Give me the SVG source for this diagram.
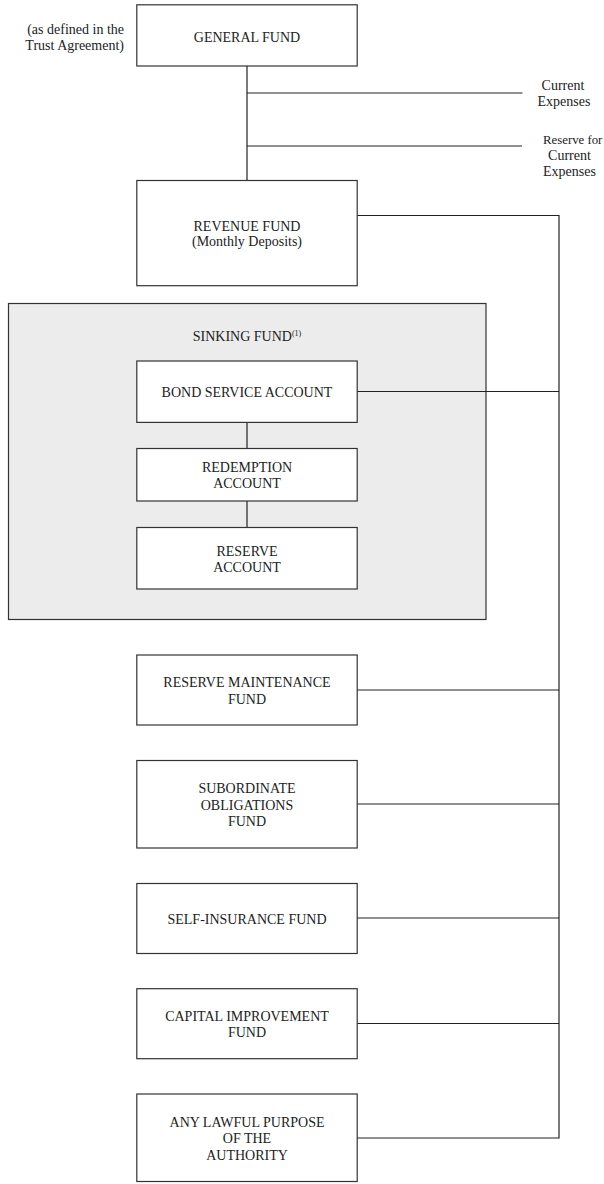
<svg xmlns="http://www.w3.org/2000/svg" width="604" height="1184" viewBox="0 0 604 1184">
<style>
.box{fill:#fff;stroke:#333;stroke-width:1.2}
.group{fill:#ececec;stroke:#333;stroke-width:1.2}
.t{font-family:"Liberation Serif","Times New Roman",serif;font-size:14px;fill:#222;text-anchor:middle}
.l{font-family:"Liberation Serif","Times New Roman",serif;font-size:14px;fill:#222}
.sup{font-size:8px}
.c{fill:none;stroke:#222;stroke-width:1.2}
</style>
<rect width="604" height="1184" fill="#fff"/>
<g id="sinking-fund">
<rect class="group" x="8.5" y="303.5" width="477.5" height="316"/>
<text class="t" x="247" y="340.5">SINKING FUND<tspan class="sup" dy="-5">(1)</tspan></text>
</g>
<g id="connectors">
<line class="c" x1="247" y1="66" x2="247" y2="180.5"/>
<line class="c" x1="247" y1="93" x2="522.5" y2="93"/>
<line class="c" x1="247" y1="146" x2="522" y2="146"/>
<polyline class="c" points="357,215.5 559,215.5 559,1138 357,1138"/>
<line class="c" x1="357" y1="391.5" x2="559" y2="391.5"/>
<line class="c" x1="357" y1="690" x2="559" y2="690"/>
<line class="c" x1="357" y1="804" x2="559" y2="804"/>
<line class="c" x1="357" y1="918" x2="559" y2="918"/>
<line class="c" x1="357" y1="1023.5" x2="559" y2="1023.5"/>
<line class="c" x1="247" y1="422.5" x2="247" y2="448.5"/>
<line class="c" x1="247" y1="501" x2="247" y2="527.5"/>
</g>
<g id="trust-note">
<text class="l" x="124" y="33.5" text-anchor="end">(as defined in the</text>
<text class="l" x="124" y="49.5" text-anchor="end">Trust Agreement)</text>
</g>
<g id="general-fund">
<rect class="box" x="136.8" y="4.8" width="220.4" height="61.2"/>
<text class="t" x="247" y="41.5">GENERAL FUND</text>
</g>
<g id="current-expenses">
<text class="t" x="563" y="89.5">Current</text>
<text class="t" x="564" y="106">Expenses</text>
</g>
<g id="reserve-current-expenses">
<text class="l" x="543" y="143.5" style="font-size:12.8px">Reserve for</text>
<text class="t" x="569.5" y="159.5">Current</text>
<text class="t" x="569.5" y="176">Expenses</text>
</g>
<g id="revenue-fund">
<rect class="box" x="136.8" y="180.5" width="220.4" height="105.2"/>
<text class="t" x="247" y="230.5">REVENUE FUND</text>
<text class="t" x="247" y="246">(Monthly Deposits)</text>
</g>
<g id="bond-service-account">
<rect class="box" x="136.8" y="361" width="220.4" height="61.4"/>
<text class="t" x="247" y="397">BOND SERVICE ACCOUNT</text>
</g>
<g id="redemption-account">
<rect class="box" x="136.8" y="448.5" width="220.4" height="52.5"/>
<text class="t" x="247" y="472">REDEMPTION</text>
<text class="t" x="247" y="488">ACCOUNT</text>
</g>
<g id="reserve-account">
<rect class="box" x="136.8" y="527.5" width="220.4" height="61.5"/>
<text class="t" x="247" y="555.5">RESERVE</text>
<text class="t" x="247" y="572">ACCOUNT</text>
</g>
<g id="reserve-maintenance-fund">
<rect class="box" x="136.8" y="655" width="220.4" height="70"/>
<text class="t" x="247" y="687">RESERVE MAINTENANCE</text>
<text class="t" x="247" y="703.5">FUND</text>
</g>
<g id="subordinate-obligations-fund">
<rect class="box" x="136.8" y="760.5" width="220.4" height="87.5"/>
<text class="t" x="247" y="792.5">SUBORDINATE</text>
<text class="t" x="247" y="809.5">OBLIGATIONS</text>
<text class="t" x="247" y="825.5">FUND</text>
</g>
<g id="self-insurance-fund">
<rect class="box" x="136.8" y="883.5" width="220.4" height="70"/>
<text class="t" x="247" y="923.5">SELF-INSURANCE FUND</text>
</g>
<g id="capital-improvement-fund">
<rect class="box" x="136.8" y="988.7" width="220.4" height="70"/>
<text class="t" x="247" y="1020.5">CAPITAL IMPROVEMENT</text>
<text class="t" x="247" y="1037">FUND</text>
</g>
<g id="any-lawful-purpose">
<rect class="box" x="136.8" y="1094" width="220.4" height="87.5"/>
<text class="t" x="247" y="1127">ANY LAWFUL PURPOSE</text>
<text class="t" x="247" y="1143">OF THE</text>
<text class="t" x="247" y="1159.5">AUTHORITY</text>
</g>
</svg>
